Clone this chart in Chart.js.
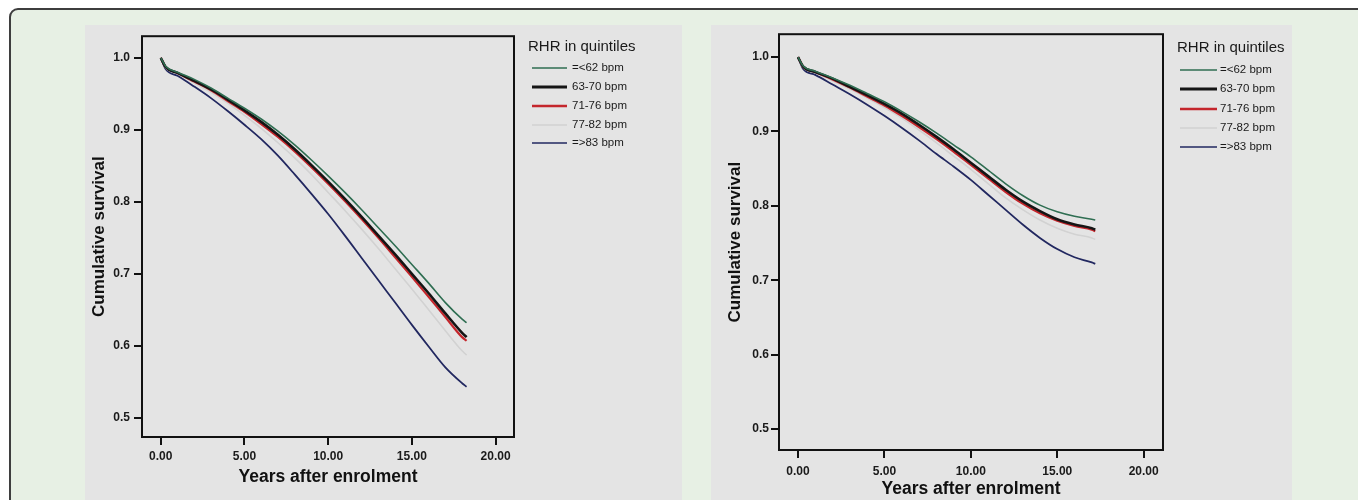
<!DOCTYPE html>
<html>
<head>
<meta charset="utf-8">
<script src="https://cdn.jsdelivr.net/npm/chart.js@4.4.1/dist/chart.umd.min.js"></script>
<style>
  html, body { margin: 0; padding: 0; background: #fff; width: 1358px; height: 500px; overflow: hidden; }
  #frame {
    position: absolute; left: 9px; top: 8px; width: 1400px; height: 600px;
    border: 2px solid #3e3e3e; border-radius: 9px; background: #e7f0e4; box-sizing: border-box;
  }
  canvas { position: absolute; background: #e4e4e4; }
  #left { left: 85px; top: 25px; }
  #right { left: 711px; top: 25px; }
</style>
</head>
<body>
<div id="frame"></div>
<canvas id="left" width="597" height="475"></canvas>
<canvas id="right" width="581" height="475"></canvas>
<script>
// legend labels (RHR quintiles)
const groups = ['=<62 bpm', '63-70 bpm', '71-76 bpm', '77-82 bpm', '=>83 bpm'];
const yTicks = [0.5, 0.6, 0.7, 0.8, 0.9, 1.0];
const xTicks = [0, 5, 10, 15, 20];

// left panel
const leftYears = [0, 0.3, 1, 2, 3, 4, 5, 6, 7, 8, 9, 10, 11, 12, 13, 14, 15, 16, 17, 18, 18.27];
const leftLe62 = [1.000, 0.988, 0.980, 0.970, 0.958, 0.944, 0.930, 0.915, 0.898, 0.879, 0.858, 0.836, 0.813, 0.789, 0.764, 0.739, 0.713, 0.687, 0.660, 0.637, 0.632];
const left63to70 = [1.000, 0.987, 0.979, 0.968, 0.956, 0.942, 0.927, 0.911, 0.893, 0.873, 0.851, 0.828, 0.804, 0.779, 0.753, 0.727, 0.700, 0.673, 0.645, 0.618, 0.612];
const left71to76 = [1.000, 0.987, 0.979, 0.967, 0.955, 0.940, 0.925, 0.908, 0.890, 0.870, 0.848, 0.825, 0.801, 0.776, 0.750, 0.723, 0.696, 0.668, 0.640, 0.612, 0.607];
const left77to82 = [1.000, 0.986, 0.978, 0.965, 0.952, 0.937, 0.920, 0.902, 0.882, 0.861, 0.838, 0.813, 0.788, 0.762, 0.735, 0.707, 0.679, 0.650, 0.621, 0.593, 0.587];
const leftGe83 = [1.000, 0.984, 0.975, 0.960, 0.944, 0.926, 0.907, 0.887, 0.864, 0.838, 0.811, 0.783, 0.753, 0.722, 0.691, 0.660, 0.629, 0.599, 0.570, 0.548, 0.543];

// right panel
const rightYears = [0, 0.3, 1, 2, 3, 4, 5, 6, 7, 8, 9, 10, 11, 12, 13, 14, 15, 16, 17, 17.2];
const rightLe62 = [1.000, 0.988, 0.981, 0.972, 0.962, 0.951, 0.940, 0.927, 0.913, 0.898, 0.882, 0.866, 0.848, 0.830, 0.814, 0.801, 0.792, 0.786, 0.782, 0.781];
const right63to70 = [1.000, 0.987, 0.980, 0.971, 0.960, 0.949, 0.937, 0.924, 0.909, 0.893, 0.876, 0.858, 0.840, 0.822, 0.806, 0.793, 0.782, 0.775, 0.770, 0.768];
const right71to76 = [1.000, 0.987, 0.980, 0.970, 0.959, 0.947, 0.935, 0.921, 0.906, 0.890, 0.873, 0.855, 0.837, 0.819, 0.803, 0.790, 0.780, 0.773, 0.768, 0.766];
const right77to82 = [1.000, 0.986, 0.979, 0.968, 0.957, 0.945, 0.932, 0.918, 0.902, 0.885, 0.867, 0.849, 0.830, 0.811, 0.795, 0.781, 0.770, 0.762, 0.757, 0.755];
const rightGe83 = [1.000, 0.984, 0.976, 0.963, 0.950, 0.936, 0.921, 0.905, 0.888, 0.870, 0.853, 0.835, 0.815, 0.795, 0.775, 0.757, 0.742, 0.731, 0.724, 0.722];

const lineColors = ['#2f6e52', '#151515', '#c4262c', '#d2d2d2', '#222860'];
const lineWidths = [1.6, 2.6, 2.2, 1.6, 1.8];
const legendWidths = [1.5, 3, 2.5, 1.5, 1.5];

const FONT = "'Liberation Sans', Arial, sans-serif";

// plot box around the chart area
const boxPlugin = {
    id: 'box',
    afterDraw(chart) {
        const a = chart.chartArea;
        const ctx = chart.ctx;
        ctx.save();
        ctx.strokeStyle = '#111';
        ctx.lineWidth = 2;
        ctx.strokeRect(a.left, a.top, a.right - a.left, a.bottom - a.top);
        ctx.restore();
    }
};

// SPSS-like legend to the right of the plot
const spssLegend = {
    id: 'spssLegend',
    afterDraw(chart, args, opts) {
        const ctx = chart.ctx;
        ctx.save();
        ctx.fillStyle = '#1a1a1a';
        ctx.textBaseline = 'middle';
        ctx.textAlign = 'left';
        ctx.font = '15px ' + FONT;
        ctx.fillText(opts.title, opts.titleX, opts.titleY);
        ctx.font = '11.5px ' + FONT;
        chart.data.datasets.forEach((ds, i) => {
            const y = opts.rowY[i];
            ctx.strokeStyle = ds.borderColor;
            ctx.lineWidth = legendWidths[i];
            ctx.beginPath();
            ctx.moveTo(opts.lineX1, y);
            ctx.lineTo(opts.lineX2, y);
            ctx.stroke();
            ctx.fillText(ds.label, opts.textX, y);
        });
        ctx.restore();
    }
};

function makeDatasets(years, series) {
    return series.map((vals, i) => ({
        label: groups[i],
        data: vals.map((v, j) => ({ x: years[j], y: v })),
        borderColor: lineColors[i],
        borderWidth: lineWidths[i],
        pointRadius: 0,
        cubicInterpolationMode: 'monotone',
        fill: false
    }));
}

function makeChart(canvasId, cfg) {
    return new Chart(document.getElementById(canvasId), {
        type: 'line',
        data: { datasets: makeDatasets(cfg.years, cfg.series) },
        options: {
            responsive: false,
            animation: false,
            events: [],
            layout: { padding: cfg.padding },
            plugins: {
                legend: { display: false },
                tooltip: { enabled: false },
                spssLegend: cfg.legend
            },
            scales: {
                x: {
                    type: 'linear',
                    min: cfg.xMin,
                    max: cfg.xMax,
                    afterBuildTicks: s => { s.ticks = xTicks.map(v => ({ value: v })); },
                    afterFit: s => { s.height = cfg.xHeight; },
                    border: { display: false },
                    grid: { drawOnChartArea: false, drawTicks: true, tickLength: 8, color: '#111', lineWidth: 2 },
                    ticks: {
                        callback: v => v.toFixed(2),
                        color: '#1a1a1a',
                        padding: cfg.xTickPad,
                        maxRotation: 0,
                        font: { family: FONT, size: 12, weight: 'bold' }
                    },
                    title: {
                        display: true,
                        text: 'Years after enrolment',
                        color: '#111',
                        padding: { top: 0, bottom: cfg.xTitlePad },
                        font: { family: FONT, size: 17.5, weight: 'bold' }
                    }
                },
                y: {
                    type: 'linear',
                    min: cfg.yMin,
                    max: cfg.yMax,
                    afterBuildTicks: s => { s.ticks = yTicks.map(v => ({ value: v })); },
                    afterFit: s => { s.width = cfg.yWidth; },
                    border: { display: false },
                    grid: { drawOnChartArea: false, drawTicks: true, tickLength: 8, color: '#111', lineWidth: 2 },
                    ticks: {
                        callback: v => v.toFixed(1),
                        color: '#1a1a1a',
                        padding: cfg.yTickPad,
                        font: { family: FONT, size: 12, weight: 'bold' }
                    },
                    title: {
                        display: true,
                        text: 'Cumulative survival',
                        color: '#111',
                        padding: { top: 4, bottom: 0 },
                        font: { family: FONT, size: 17, weight: 'bold' }
                    }
                }
            }
        },
        plugins: [boxPlugin, spssLegend]
    });
}

makeChart('left', {
    years: leftYears,
    series: [leftLe62, left63to70, left71to76, left77to82, leftGe83],
    padding: { left: 0, right: 168, top: 9, bottom: 0 },
    xMin: -1.12, xMax: 21.1, yMin: 0.4733, yMax: 1.030,
    xHeight: 63, yWidth: 57, xTickPad: 4, yTickPad: 4, xTitlePad: 12,
    legend: { title: 'RHR in quintiles', titleX: 443, titleY: 22, lineX1: 447, lineX2: 482, textX: 487, rowY: [43, 62, 81, 100, 118] }
});

makeChart('right', {
    years: rightYears,
    series: [rightLe62, right63to70, right71to76, right77to82, rightGe83],
    padding: { left: 10, right: 129, top: 9, bottom: 0 },
    xMin: -1.10, xMax: 21.12, yMin: 0.472, yMax: 1.0307,
    xHeight: 50, yWidth: 58, xTickPad: 6, yTickPad: 2, xTitlePad: 0,
    legend: { title: 'RHR in quintiles', titleX: 466, titleY: 23, lineX1: 469, lineX2: 506, textX: 509, rowY: [45, 64, 84, 103, 122] }
});
</script>
</body>
</html>
